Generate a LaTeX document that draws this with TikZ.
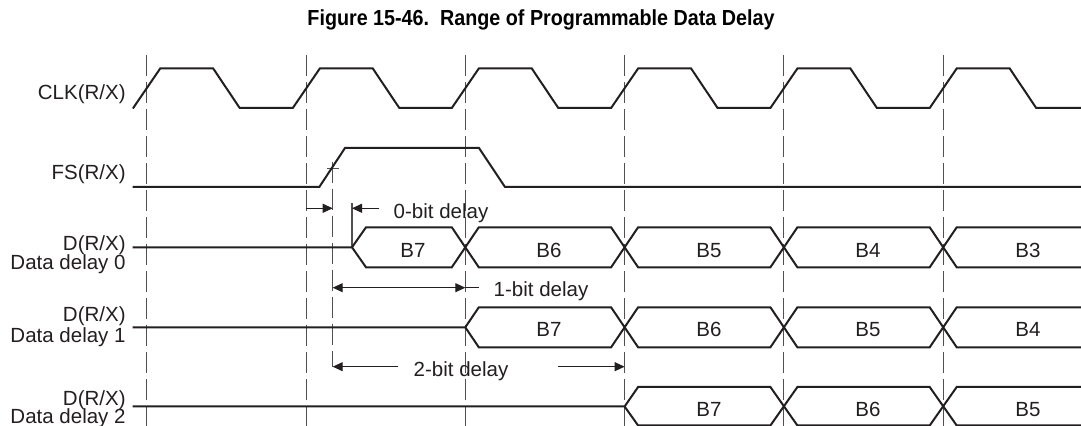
\documentclass[tikz,border=0pt]{standalone}
\usepackage{fontspec}
\setmainfont{Liberation Sans}
\usetikzlibrary{arrows.meta}
\definecolor{ink}{HTML}{231F20}
\definecolor{guide}{HTML}{505050}
\begin{document}
\begin{tikzpicture}[x=0.5pt,y=-0.5pt,
  wave/.style={draw=ink,line width=1pt,line join=miter},
  guideline/.style={draw=guide,line width=0.55pt,dash pattern=on 10.5pt off 3pt},
  tickline/.style={draw=guide,line width=0.55pt},
  dim/.style={draw=ink,line width=0.5pt,-{Triangle[length=5pt,width=4.5pt]}},
  dimboth/.style={draw=ink,line width=0.5pt,{Triangle[length=5pt,width=4.5pt]}-{Triangle[length=5pt,width=4.5pt]}},
  lbl/.style={text=ink,font=\fontsize{10.25}{12}\selectfont,inner sep=0pt},
  sig/.style={lbl,anchor=base east},
  bit/.style={lbl,anchor=base},
  note/.style={lbl,anchor=base west}]
\useasboundingbox (0,0) rectangle (1081,426);
\fill[white] (0,0) rectangle (1081,426);

% title
\node[text=black,font=\fontsize{10.9}{13}\selectfont\bfseries,inner sep=0pt,anchor=base,xscale=0.905] (title) at (541,25.5) {Figure 15-46.~~Range of Programmable Data Delay};

% guide lines
\foreach \c [count=\i] in {146.7,306.3,465.3,624.6,783.9,943.2}
  \draw[guideline] (\c,55) coordinate (g\i top) -- (\c,426) coordinate (g\i bot);
\draw[guideline] (332.7,161.7) coordinate (m top) -- (332.7,366.7) coordinate (m bot);
\draw[tickline] (352,203.3) coordinate (z top) -- (352,247.3) coordinate (z bot);
\draw[tickline] (326.7,168.3) -- (339.3,168.3);

% CLK
\draw[wave] (132.7,108) \foreach \c in {146.7,306.3,465.3,624.6,783.9,943.2}
  { -- (\c-13.5,108) -- (\c+13.5,68.5) -- (\c+66.5,68.5) -- (\c+93,108) } -- (1081,108);

% FS
\draw[wave] (132.7,187) -- (319.3,187) -- (345,148) -- (479,148) -- (505,187) -- (1081,187);

% D data delay 0
\draw[wave] (132.7,247.3) -- (352,247.3) -- (366,227.3) -- (451.8,227.3) -- (478.8,267.3) -- (611.1,267.3) -- (638.1,227.3) -- (770.4,227.3) -- (797.4,267.3) -- (929.7,267.3) -- (956.7,227.3) -- (1081,227.3);
\draw[wave] (352,247.3) -- (366,267.3) -- (451.8,267.3) -- (478.8,227.3) -- (611.1,227.3) -- (638.1,267.3) -- (770.4,267.3) -- (797.4,227.3) -- (929.7,227.3) -- (956.7,267.3) -- (1081,267.3);

% D data delay 1
\draw[wave] (132.7,327.3) -- (465.3,327.3) -- (478.8,307.3) -- (611.1,307.3) -- (638.1,347.3) -- (770.4,347.3) -- (797.4,307.3) -- (929.7,307.3) -- (956.7,347.3) -- (1081,347.3);
\draw[wave] (465.3,327.3) -- (478.8,347.3) -- (611.1,347.3) -- (638.1,307.3) -- (770.4,307.3) -- (797.4,347.3) -- (929.7,347.3) -- (956.7,307.3) -- (1081,307.3);

% D data delay 2
\draw[wave] (132.7,406.5) -- (624.6,406.5) -- (638.1,387) -- (770.4,387) -- (797.4,425.5) -- (929.7,425.5) -- (956.7,387) -- (1081,387);
\draw[wave] (624.6,406.5) -- (638.1,425.5) -- (770.4,425.5) -- (797.4,387) -- (929.7,387) -- (956.7,425.5) -- (1081,425.5);

% signal labels
\node[sig] (clk) at (126,99.3) {CLK(R/X)};
\node[sig] (fs) at (126,180) {FS(R/X)};
\node[sig] (d0a) at (126,251) {D(R/X)};
\node[sig] (d0b) at (126,270) {Data delay 0};
\node[sig] (d1a) at (126,321.7) {D(R/X)};
\node[sig] (d1b) at (126,342.7) {Data delay 1};
\node[sig] (d2a) at (126,406) {D(R/X)};
\node[sig] (d2b) at (126,424) {Data delay 2};

% bit labels
\node[bit] (a7) at (413,257.5) {B7};
\node[bit] (a6) at (549,257.5) {B6};
\node[bit] (a5) at (709,257.5) {B5};
\node[bit] (a4) at (868,257.5) {B4};
\node[bit] (a3) at (1028,257.5) {B3};
\node[bit] (b7) at (549,337) {B7};
\node[bit] (b6) at (709,337) {B6};
\node[bit] (b5) at (868,337) {B5};
\node[bit] (b4) at (1028,337) {B4};
\node[bit] (c7) at (709,416.7) {B7};
\node[bit] (c6) at (868,416.7) {B6};
\node[bit] (c5) at (1028,416.7) {B5};

% delay annotations
\coordinate (zl) at (306.3,208.3);
\coordinate (zm) at (332.7,208.3);
\coordinate (zr) at (379,208.3);
\coordinate (zn) at (352,208.3);
\draw[dim] (zl) -- (zm);
\draw[dim] (zr) -- (zn);
\node[note] (n0) at (393.3,218.3) {0-bit delay};

\coordinate (ol) at (332.7,287.7);
\coordinate (or) at (465.3,287.7);
\coordinate (oe) at (479,287.7);
\draw[dimboth] (ol) -- (or);
\draw[draw=ink,line width=0.5pt] (or) -- (oe);
\node[note] (n1) at (493.3,297) {1-bit delay};

\coordinate (tl) at (332.7,366.7);
\coordinate (tr) at (624.6,366.7);
\node[note] (n2) at (413.3,376.7) {2-bit delay};
\coordinate (tla) at (398,366.7);
\coordinate (tra) at (557.7,366.7);
\draw[dim] (tla) -- (tl);
\draw[dim] (tra) -- (tr);
\end{tikzpicture}
\end{document}
